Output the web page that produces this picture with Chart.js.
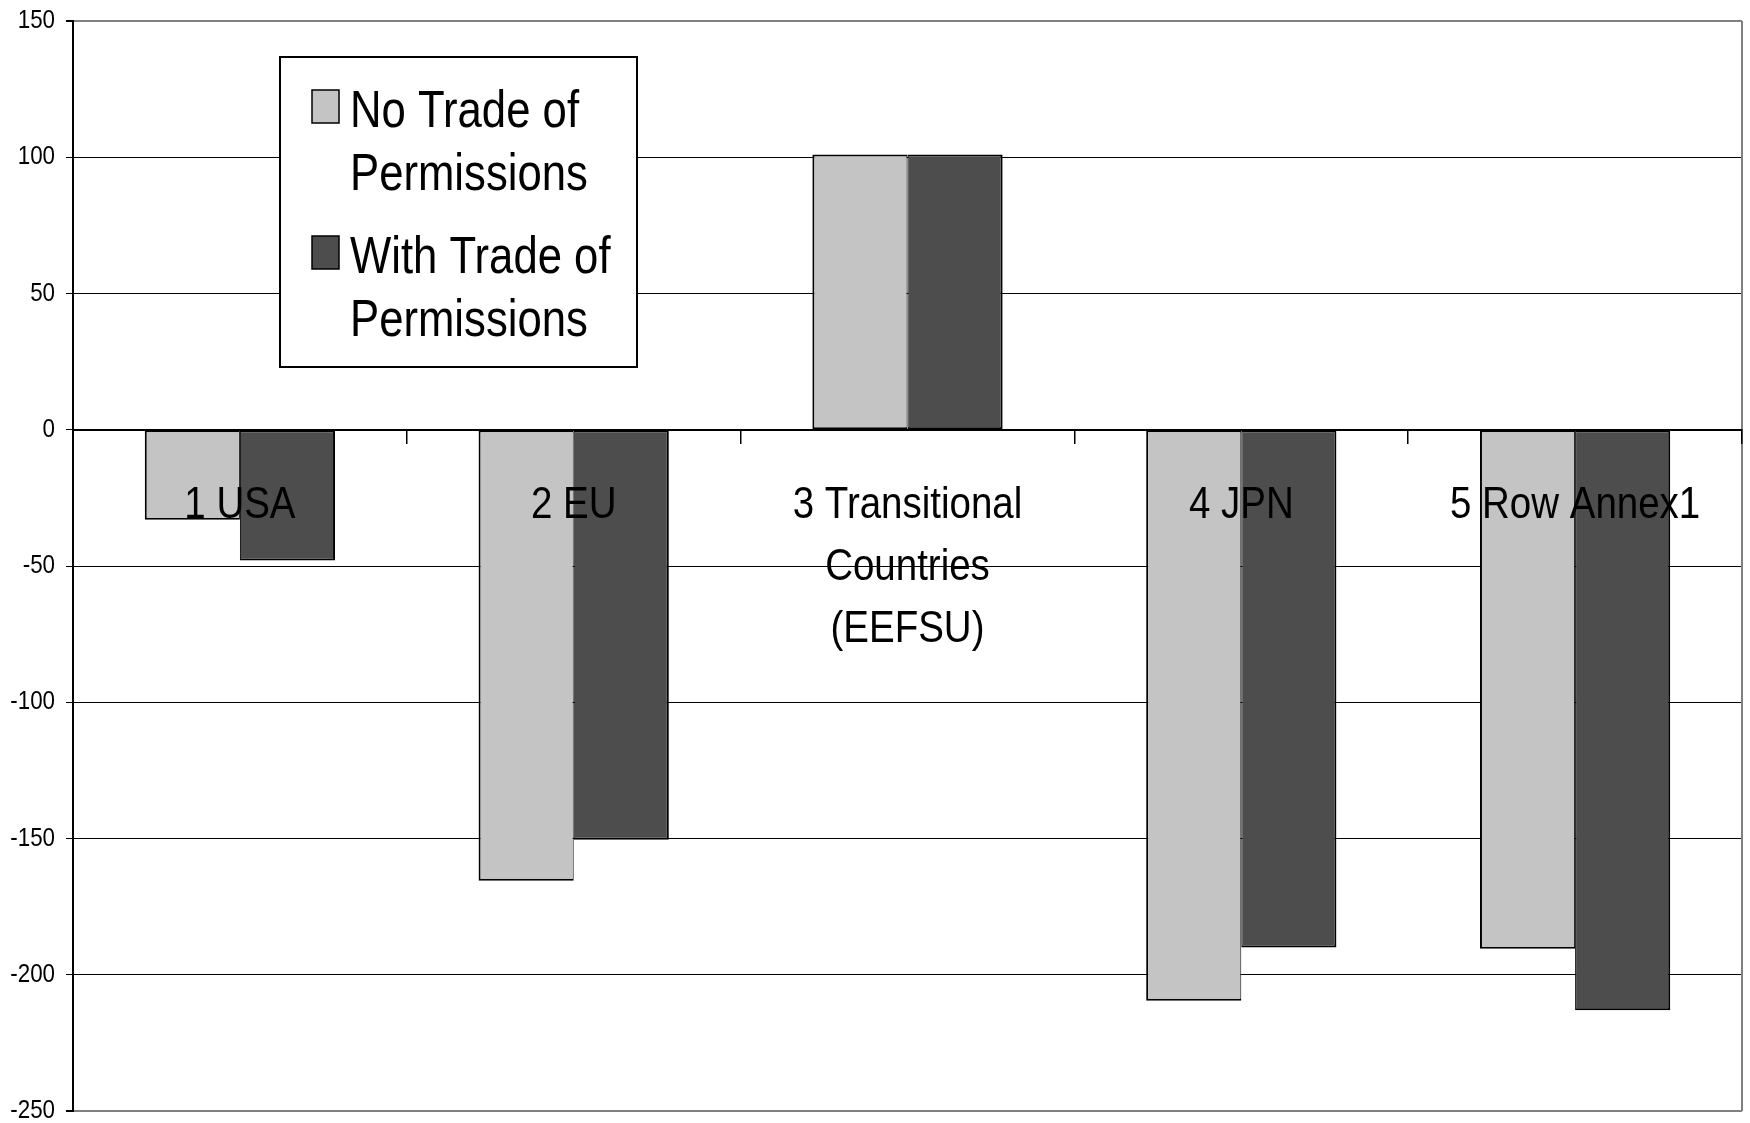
<!DOCTYPE html>
<html>
<head>
<meta charset="utf-8">
<script src="https://cdn.jsdelivr.net/npm/chart.js@4.4.0/dist/chart.umd.min.js"></script>
<style>
  html, body { margin: 0; padding: 0; background: #ffffff; }
  #wrap { width: 1750px; height: 1123px; }
</style>
</head>
<body>
<div id="wrap"><canvas id="chart" width="1750" height="1123"></canvas></div>
<script>
// Regions (multi-line labels are arrays of lines)
const categories = [
  ['1 USA'],
  ['2 EU'],
  ['3 Transitional', 'Countries', '(EEFSU)'],
  ['4 JPN'],
  ['5 Row Annex1']
];
const seriesNames = ['No Trade of Permissions', 'With Trade of Permissions'];
const noTrade   = [-33, -165.5, 101, -209.5, -190.5];
const withTrade = [-48, -150.5, 101, -190, -213];
const yTicks = [150, 100, 50, 0, -50, -100, -150, -200, -250];

const LIGHT = '#c4c4c4';
const DARK = '#4d4d4d';

// Use a condensed sans face if one is installed, otherwise squeeze the regular one
function hasFont(name) {
  const cv = document.createElement('canvas').getContext('2d');
  const probe = 'abcdefghijklmnopqrstuvwxyz0123456789';
  cv.font = '40px monospace';
  const base = cv.measureText(probe).width;
  cv.font = '40px "' + name + '", monospace';
  return cv.measureText(probe).width !== base;
}
const NARROW = hasFont('Liberation Sans Narrow');
const SQUEEZE = NARROW ? { x: 1, y: 1, legend: 1 } : { x: 0.855, y: 0.86, legend: 0.84 };
const FAMILY = NARROW
  ? '"Liberation Sans Narrow", "Arial Narrow", "Liberation Sans", Arial, sans-serif'
  : '"Liberation Sans", Arial, sans-serif';

// Draw axis labels horizontally condensed (applied right after each label is positioned)
const condense = {
  id: 'condense',
  beforeDraw(chart) {
    ['x', 'y'].forEach(id => {
      const s = chart.scales[id];
      const k = SQUEEZE[id];
      if (!s || s._condensed || k === 1) return;
      const orig = s.drawLabels;
      s.drawLabels = function (area) {
        const ctx = this.ctx;
        const rot = ctx.rotate;
        ctx.rotate = function (a) { rot.call(this, a); this.scale(k, 1); };
        try { orig.call(this, area); } finally { ctx.rotate = rot; }
      };
      s._condensed = true;
    });
  }
};

// Gray frame on the right side of the plot area
const frame = {
  id: 'frame',
  beforeDatasetsDraw(chart) {
    const { ctx, chartArea: a } = chart;
    ctx.save();
    ctx.strokeStyle = '#808080';
    ctx.lineWidth = 2;
    ctx.beginPath();
    ctx.moveTo(a.right, a.top);
    ctx.lineTo(a.right, a.bottom);
    ctx.stroke();
    ctx.restore();
  }
};

// Boxed legend sitting inside the plot area
const boxLegend = {
  id: 'boxLegend',
  afterDraw(chart) {
    const { ctx } = chart;
    const L = 280, T = 57, W = 357, H = 310;
    const size = 52;
    const k = SQUEEZE.legend;
    ctx.save();
    ctx.fillStyle = '#ffffff';
    ctx.fillRect(L, T, W, H);
    ctx.strokeStyle = '#000000';
    ctx.lineWidth = 2;
    ctx.strokeRect(L, T, W, H);

    ctx.font = size + 'px ' + FAMILY;
    const maxW = 280;
    const lineStep = 63;
    let baseline = T + 70;
    chart.data.datasets.forEach(ds => {
      // word-wrap the series name
      const words = ds.label.split(' ');
      const lines = [];
      let cur = '';
      words.forEach(w => {
        const test = cur ? cur + ' ' + w : w;
        if (ctx.measureText(test).width * k > maxW && cur) {
          lines.push(cur);
          cur = w;
        } else {
          cur = test;
        }
      });
      if (cur) lines.push(cur);

      // swatch
      ctx.fillStyle = ds.backgroundColor;
      ctx.fillRect(L + 32, baseline - 37, 27, 33);
      ctx.lineWidth = 1.5;
      ctx.strokeStyle = '#000000';
      ctx.strokeRect(L + 32, baseline - 37, 27, 33);

      ctx.fillStyle = '#000000';
      ctx.textBaseline = 'alphabetic';
      ctx.textAlign = 'left';
      lines.forEach((ln, j) => {
        ctx.save();
        ctx.translate(L + 70, baseline + j * lineStep);
        ctx.scale(k, 1);
        ctx.fillText(ln, 0, 0);
        ctx.restore();
      });
      baseline += lines.length * lineStep + 20;
    });
    ctx.restore();
  }
};

const edge = v => v === yTicks[0] || v === yTicks[yTicks.length - 1];

new Chart(document.getElementById('chart'), {
  type: 'bar',
  data: {
    labels: categories,
    datasets: [
      {
        label: seriesNames[0],
        data: noTrade,
        backgroundColor: LIGHT,
        borderColor: '#000000',
        borderWidth: { top: 2, right: 1, bottom: 2, left: 2 },
        borderSkipped: false
      },
      {
        label: seriesNames[1],
        data: withTrade,
        backgroundColor: DARK,
        borderColor: '#000000',
        borderWidth: { top: 2, right: 2, bottom: 2, left: 1 },
        borderSkipped: false
      }
    ]
  },
  options: {
    responsive: false,
    devicePixelRatio: 1,
    animation: false,
    datasets: {
      bar: { barPercentage: 1, categoryPercentage: 0.57 }
    },
    layout: { padding: { top: 21, right: 8, bottom: 12, left: 0 } },
    plugins: {
      legend: { display: false },
      tooltip: { enabled: false }
    },
    scales: {
      x: {
        type: 'category',
        position: { y: 0 },
        offset: true,
        afterFit(scale) {
          scale.paddingLeft = 0;
          scale.paddingRight = 0;
        },
        grid: {
          z: 1,
          offset: true,
          drawOnChartArea: false,
          drawTicks: true,
          tickLength: 13,
          color: '#000000',
          lineWidth: 1.5
        },
        border: { z: 1, color: '#000000', width: 2 },
        ticks: {
          z: 2,
          autoSkip: false,
          maxRotation: 0,
          minRotation: 0,
          padding: 32,
          color: '#000000',
          font: { family: FAMILY, size: 45, lineHeight: 1.375 }
        }
      },
      y: {
        min: yTicks[yTicks.length - 1],
        max: yTicks[0],
        afterFit(scale) {
          scale.width = 73;
          scale.paddingTop = 0;
          scale.paddingBottom = 0;
        },
        afterBuildTicks(scale) { scale.ticks = yTicks.map(v => ({ value: v })); },
        grid: {
          color: c => (c.tick && edge(c.tick.value)) ? '#808080' : '#000000',
          lineWidth: c => (c.tick && edge(c.tick.value)) ? 2 : 1,
          tickColor: '#000000',
          tickLength: 7,
          drawTicks: true
        },
        border: { color: '#000000', width: 2 },
        ticks: {
          padding: 11,
          color: '#000000',
          font: { family: FAMILY, size: 26 }
        }
      }
    }
  },
  plugins: [condense, frame, boxLegend]
});
</script>
</body>
</html>
